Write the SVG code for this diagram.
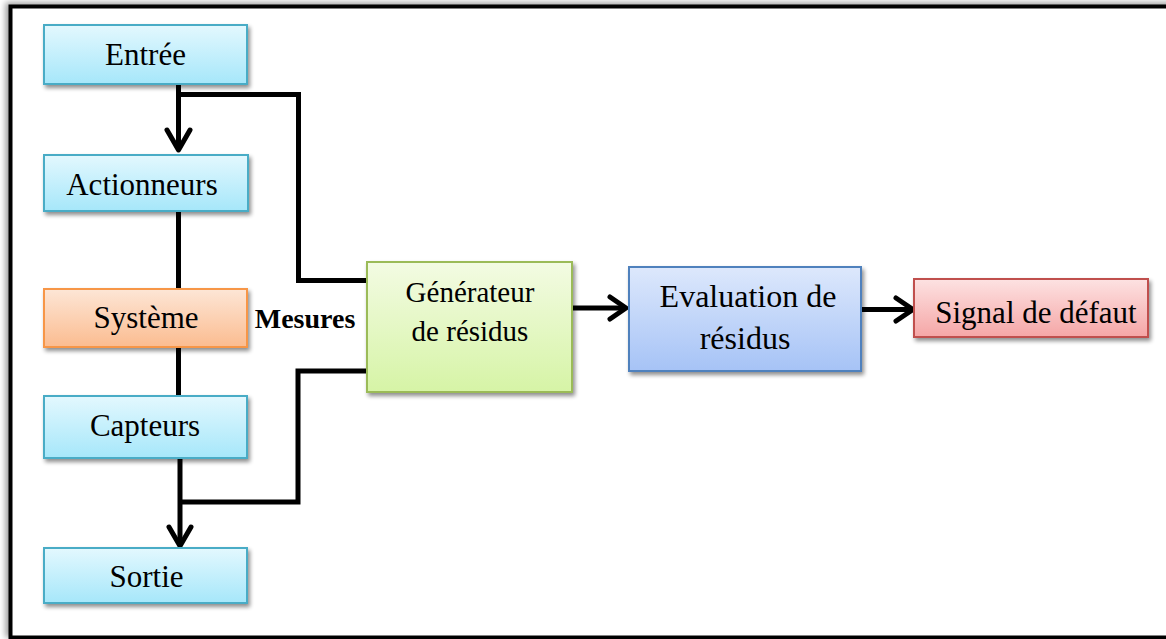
<svg xmlns="http://www.w3.org/2000/svg" width="1166" height="639" viewBox="0 0 1166 639">
  <defs>
    <linearGradient id="gCyan" x1="0" y1="0" x2="0" y2="1">
      <stop offset="0" stop-color="#e3f8fe"/>
      <stop offset="1" stop-color="#a6e7fa"/>
    </linearGradient>
    <linearGradient id="gOrange" x1="0" y1="0" x2="0" y2="1">
      <stop offset="0" stop-color="#fde6d6"/>
      <stop offset="1" stop-color="#fbbc90"/>
    </linearGradient>
    <linearGradient id="gGreen" x1="0" y1="0" x2="0" y2="1">
      <stop offset="0" stop-color="#f3fbe3"/>
      <stop offset="1" stop-color="#d6f4a6"/>
    </linearGradient>
    <linearGradient id="gBlue" x1="0" y1="0" x2="0" y2="1">
      <stop offset="0" stop-color="#dde8fc"/>
      <stop offset="1" stop-color="#a6c3f6"/>
    </linearGradient>
    <linearGradient id="gRed" x1="0" y1="0" x2="0" y2="1">
      <stop offset="0" stop-color="#fde2e2"/>
      <stop offset="1" stop-color="#f5a6a6"/>
    </linearGradient>
    <filter id="shadow" x="-10%" y="-10%" width="130%" height="140%">
      <feGaussianBlur in="SourceAlpha" stdDeviation="2"/>
      <feOffset dx="2" dy="3" result="b"/>
      <feComponentTransfer><feFuncA type="linear" slope="0.45"/></feComponentTransfer>
      <feMerge><feMergeNode/><feMergeNode in="SourceGraphic"/></feMerge>
    </filter>
    <filter id="frameShadow" x="-5%" y="-5%" width="110%" height="110%">
      <feGaussianBlur in="SourceAlpha" stdDeviation="3"/>
      <feOffset dx="-3" dy="-2"/>
      <feComponentTransfer><feFuncA type="linear" slope="0.4"/></feComponentTransfer>
      <feMerge><feMergeNode/><feMergeNode in="SourceGraphic"/></feMerge>
    </filter>
  </defs>
  <style>
    .box { stroke-width: 2; filter: url(#shadow); }
    .cyan { fill: url(#gCyan); stroke: #4aacc6; }
    .orange { fill: url(#gOrange); stroke: #f79646; }
    .green { fill: url(#gGreen); stroke: #9bbb59; }
    .blue { fill: url(#gBlue); stroke: #4f81bd; }
    .red { fill: url(#gRed); stroke: #c0504d; }
    text { font-family: "Liberation Serif", "Times New Roman", serif; fill: #000; text-anchor: middle; }
    .lbl { font-size: 31px; }
    .bold { font-weight: bold; font-size: 28px; }
    .wire { fill: none; stroke: #000; stroke-width: 5; stroke-linejoin: miter; }
    .head { fill: none; stroke: #000; stroke-width: 5; stroke-linecap: round; stroke-linejoin: round; }
  </style>

  <rect width="1166" height="639" fill="#ffffff"/>

  <!-- outer frame -->
  <rect x="10.5" y="6.5" width="1175" height="631" fill="#ffffff" stroke="#000" stroke-width="4" filter="url(#frameShadow)"/>

  <!-- connectors -->
  <g id="connectors">
    <!-- main chain -->
    <line class="wire" x1="178.5" y1="84" x2="178.5" y2="148"/>
    <line class="wire" x1="178.5" y1="211" x2="178.5" y2="290"/>
    <line class="wire" x1="178.5" y1="347" x2="178.5" y2="397"/>
    <line class="wire" x1="180" y1="458" x2="180" y2="544"/>
    <!-- input tap to residual generator -->
    <polyline class="wire" points="178.5,94.5 298.5,94.5 298.5,280.5 368,280.5"/>
    <!-- measurement tap to residual generator -->
    <polyline class="wire" points="180,502 298,502 298,371 368,371"/>
    <!-- horizontal chain -->
    <line class="wire" x1="572" y1="308" x2="624" y2="308"/>
    <line class="wire" x1="861" y1="309.5" x2="911" y2="309.5"/>
    <!-- arrowheads -->
    <polyline class="head" points="167,130 178.5,150 190,130"/>
    <polyline class="head" points="169,527 180,546 191,527"/>
    <polyline class="head" points="610,297 626,308 610,319"/>
    <polyline class="head" points="896,298 913,309.5 896,321"/>
  </g>

  <g id="entree">
    <rect class="box cyan" x="44" y="25" width="203" height="59"/>
    <text class="lbl" x="145.5" y="65">Entrée</text>
  </g>
  <g id="actionneurs">
    <rect class="box cyan" x="44" y="155" width="204" height="56"/>
    <text class="lbl" x="142" y="195">Actionneurs</text>
  </g>
  <g id="systeme">
    <rect class="box orange" x="44" y="289" width="203" height="58"/>
    <text class="lbl" x="146" y="328">Système</text>
  </g>
  <g id="capteurs">
    <rect class="box cyan" x="44" y="396" width="203" height="62"/>
    <text class="lbl" x="145" y="436">Capteurs</text>
  </g>
  <g id="sortie">
    <rect class="box cyan" x="44" y="548" width="203" height="55"/>
    <text class="lbl" x="146.5" y="587">Sortie</text>
  </g>

  <g id="mesures">
    <text class="bold" x="305" y="328">Mesures</text>
  </g>

  <g id="generateur">
    <rect class="box green" x="367" y="262" width="205" height="130"/>
    <text x="470" y="302" style="font-size:29px">Générateur</text>
    <text x="470" y="341" style="font-size:29px">de résidus</text>
  </g>
  <g id="evaluation">
    <rect class="box blue" x="629" y="267" width="232" height="104"/>
    <text x="748" y="307" style="font-size:32px">Evaluation de</text>
    <text x="745" y="349" style="font-size:32px">résidus</text>
  </g>
  <g id="signal">
    <rect class="box red" x="914" y="279" width="234" height="58"/>
    <text class="lbl" x="1036" y="323">Signal de défaut</text>
  </g>
</svg>
